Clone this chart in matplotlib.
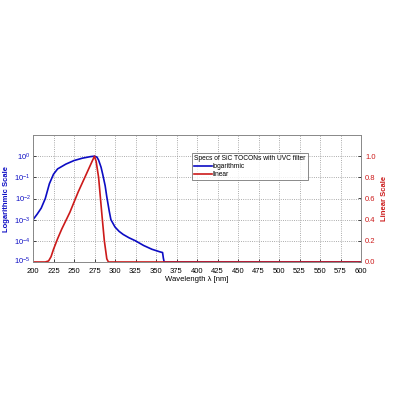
import matplotlib
matplotlib.use("Agg")
import matplotlib.pyplot as plt
import matplotlib.transforms as mtransforms
import numpy as np

plt.rcParams['font.family'] = ['Liberation Sans', 'DejaVu Sans']
plt.rcParams['mathtext.fontset'] = 'custom'
plt.rcParams['mathtext.rm'] = 'Liberation Sans'
plt.rcParams['mathtext.it'] = 'Liberation Sans:italic'
plt.rcParams['mathtext.bf'] = 'Liberation Sans:bold'

# Logarithmic response (blue)
log_wl = [200, 205, 210, 215, 220, 225, 230, 240, 250, 260, 270, 275, 278, 280, 283, 285, 288, 290, 293, 295, 300, 305, 310, 317, 325, 335, 345, 355, 358, 359, 360, 600]
log_val = [1e-3, 1.8e-3, 3.5e-3, 1e-2, 5e-2, 0.14, 0.25, 0.42, 0.62, 0.8, 0.95, 1.0, 0.9, 0.65, 0.3, 0.14, 0.04, 0.012, 2.5e-3, 1.0e-3, 4.5e-4, 2.8e-4, 2.0e-4, 1.4e-4, 1.0e-4, 6e-5, 4e-5, 3e-5, 2.8e-5, 1.5e-5, 1e-5, 1e-5]

# Linear response (red)
lin_wl = [200, 215, 219, 222, 225, 230, 235, 245, 255, 265, 272, 275, 277, 280, 284, 287, 290, 292, 600]
lin_val = [0.0, 0.0, 0.01, 0.05, 0.12, 0.22, 0.31, 0.47, 0.66, 0.83, 0.95, 1.0, 0.95, 0.8, 0.45, 0.2, 0.03, 0.0, 0.0]

xticks = list(range(200, 601, 25))
log_ticks = [1e-5, 1e-4, 1e-3, 1e-2, 1e-1, 1e0]
log_labels = ['$10^{-5}$', '$10^{-4}$', '$10^{-3}$', '$10^{-2}$', '$10^{-1}$', '$10^{0}$']
lin_ticks = [0.0, 0.2, 0.4, 0.6, 0.8, 1.0]

blue = '#0c0cc4'
red = '#cc1a1a'
fs = 5.5

fig = plt.figure(figsize=(4, 4), dpi=100)
ax = fig.add_axes([0.0825, 0.345, 0.82, 0.3175])
ax.set_yscale('log')
l1, = ax.plot(log_wl, log_val, color=blue, lw=1.2, label='logarithmic')
ax.set_xlim(200, 600)
ax.set_ylim(1e-5, 10)
ax.set_xticks(xticks)
ax.set_xticklabels([str(t) for t in xticks], fontsize=fs)
ax.set_yticks(log_ticks)
ax.set_yticklabels(log_labels, fontsize=5.5, color=blue)
ax.set_yticks([], minor=True)
ax.grid(True, which='major', color='#909090', linestyle=':', linewidth=0.6)
ax.set_xlabel('Wavelength λ [nm]', fontsize=fs, labelpad=1)
ax.set_ylabel('Logarithmic Scale', fontsize=fs, color=blue, fontweight='bold', labelpad=3)
ax.tick_params(axis='x', length=2, width=0.5, pad=4, direction='in')
ax.tick_params(axis='y', length=2, width=0.5, pad=1.5, direction='in')
for s in ax.spines.values():
    s.set_color('#888888')
    s.set_linewidth(0.6)
# nudge lowest log label up slightly so it clears the first x label
lbl0 = ax.get_yticklabels()[0]
lbl0.set_transform(lbl0.get_transform() + mtransforms.ScaledTranslation(0, 1.5 / 72, fig.dpi_scale_trans))

ax2 = ax.twinx()
l2, = ax2.plot(lin_wl, lin_val, color=red, lw=1.2, label='linear')
ax2.set_ylim(0, 1.2)
ax2.set_yticks(lin_ticks)
ax2.set_yticklabels([f'{t:.1f}' for t in lin_ticks], fontsize=fs, color=red)
ax2.set_ylabel('Linear Scale', fontsize=fs, color=red, fontweight='bold', labelpad=4)
ax2.tick_params(length=2, width=0.5, pad=3, direction='in')
for s in ax2.spines.values():
    s.set_color('#888888')
    s.set_linewidth(0.6)
leg = ax2.legend(handles=[l1, l2], title='Specs of SiC TOCONs with UVC filter',
                 loc='upper left', bbox_to_anchor=(0.485, 0.86), fontsize=4.8,
                 title_fontsize=4.8, frameon=True, fancybox=False, borderpad=0.35,
                 handlelength=2.6, handletextpad=0.15, labelspacing=0.15,
                 borderaxespad=0.0)
leg._legend_box.align = 'left'
leg.get_frame().set_edgecolor('#555555')
leg.get_frame().set_linewidth(0.6)

fig.savefig('out.png', dpi=100)
